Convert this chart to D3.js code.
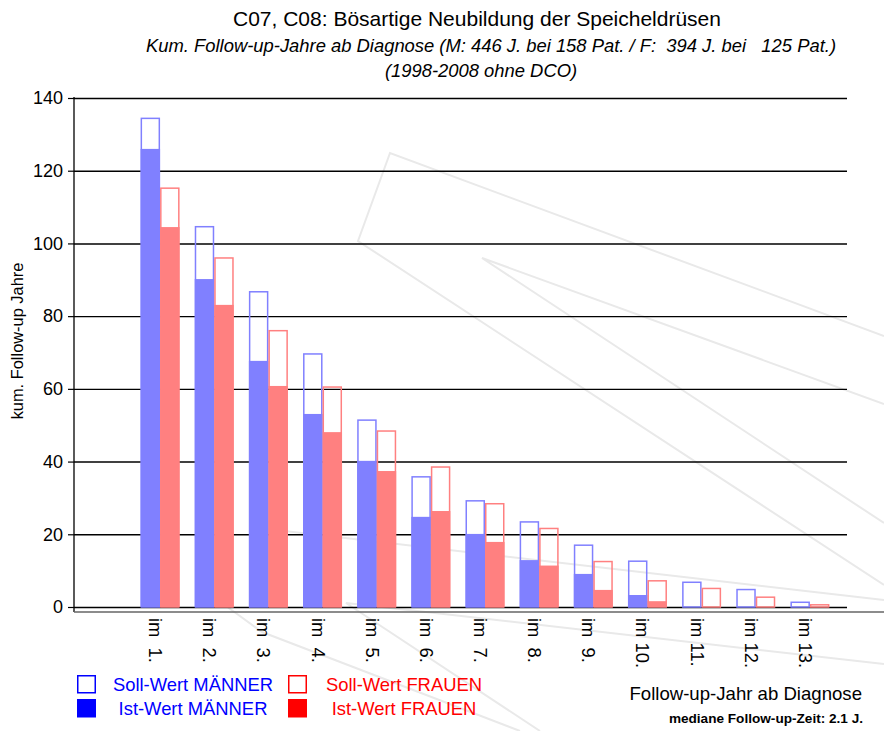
<!DOCTYPE html>
<html>
<head>
<meta charset="utf-8">
<script src="https://cdn.jsdelivr.net/npm/d3@7"></script>
<style>
  body { margin: 0; background: #fff; }
  svg text { font-family: "Liberation Sans", Arial, sans-serif; white-space: pre; }
</style>
</head>
<body>
<svg id="chart" width="884" height="731"></svg>
<script>
// follow-up years, one group per year after diagnosis
var years = ["im  1.", "im  2.", "im  3.", "im  4.", "im  5.", "im  6.", "im  7.",
             "im  8.", "im  9.", "im 10.", "im 11.", "im 12.", "im 13."];
var sollMaenner = [134.4, 104.6, 86.7, 69.6, 51.4, 35.8, 29.2, 23.4, 17.0, 12.6, 6.8, 4.8, 1.3];
var istMaenner  = [126.0, 90.2, 67.7, 53.1, 40.2, 24.8, 20.1, 12.9, 9.1, 3.3, 0, 0, 0];
var sollFrauen  = [115.2, 96.0, 76.0, 60.5, 48.4, 38.5, 28.4, 21.6, 12.5, 7.2, 5.1, 2.7, 0.6];
var istFrauen   = [104.5, 83.1, 60.8, 48.1, 37.4, 26.4, 17.9, 11.4, 4.7, 1.6, 0, 0, 0];
var yTicks = [0, 20, 40, 60, 80, 100, 120, 140];

var svg = d3.select("#chart");

var plotLeft = 74, plotRight = 847, plotTop = 98, plotBottom = 607;

var y = d3.scaleLinear().domain([0, 140]).range([plotBottom, plotTop]);
var x = d3.scaleBand().domain(years).range([133, 837]).paddingInner(0.28).paddingOuter(0.14);
var xSex = d3.scaleBand().domain(["M", "F"]).range([0, x.bandwidth()]);

// faint watermark lines in the background
var wm = svg.append("g").attr("fill", "none").attr("stroke", "#e9e9e9").attr("stroke-width", 2);
[
  [[884, 336], [390, 153], [358, 241], [884, 585]],
  [[884, 404], [482, 258], [884, 523]],
  [[250, 527], [884, 600]],
  [[884, 664], [346, 603], [540, 731]],
  [[222, 603], [262, 632], [520, 731]]
].forEach(function(pts) {
  wm.append("path").attr("d", d3.line()(pts));
});

// gridlines
svg.append("g")
  .attr("transform", "translate(" + plotLeft + ",0)")
  .call(d3.axisLeft(y).tickValues(yTicks).tickSize(-(plotRight - plotLeft)).tickFormat(""))
  .call(function(g) {
    g.select(".domain").remove();
    g.selectAll("line").attr("stroke", "#000").attr("stroke-width", 1.4);
  });

// y axis with labels
svg.append("g")
  .attr("transform", "translate(" + plotLeft + ",0)")
  .call(d3.axisLeft(y).tickValues(yTicks).tickSize(6).tickPadding(5))
  .call(function(g) {
    g.select(".domain").remove();
    g.selectAll("line").attr("stroke", "#000").attr("stroke-width", 1.2);
    g.selectAll("text").attr("font-size", 18).attr("fill", "#000")
      .attr("font-family", "Liberation Sans, Arial, sans-serif");
  });

svg.append("line")
  .attr("x1", plotLeft).attr("x2", plotLeft)
  .attr("y1", y(140) - 1).attr("y2", y(0) + 5)
  .attr("stroke", "#000").attr("stroke-width", 1.3);

// bars
var groups = svg.append("g").selectAll("g")
  .data(years)
  .join("g")
  .attr("transform", function(d) { return "translate(" + x(d) + ",0)"; });

groups.append("rect")
  .attr("x", xSex("M")).attr("width", xSex.bandwidth())
  .attr("y", function(d, i) { return y(istMaenner[i]); })
  .attr("height", function(d, i) { return y(0) - y(istMaenner[i]); })
  .attr("fill", "#8080ff");

groups.append("rect")
  .attr("x", xSex("F")).attr("width", xSex.bandwidth())
  .attr("y", function(d, i) { return y(istFrauen[i]); })
  .attr("height", function(d, i) { return y(0) - y(istFrauen[i]); })
  .attr("fill", "#ff8080");

groups.append("rect")
  .attr("x", xSex("M") + 0.75).attr("width", xSex.bandwidth() - 1.5)
  .attr("y", function(d, i) { return y(sollMaenner[i]); })
  .attr("height", function(d, i) { return y(0) - y(sollMaenner[i]); })
  .attr("fill", "none").attr("stroke", "#8080ff").attr("stroke-width", 1.5);

groups.append("rect")
  .attr("x", xSex("F") + 0.75).attr("width", xSex.bandwidth() - 1.5)
  .attr("y", function(d, i) { return y(sollFrauen[i]); })
  .attr("height", function(d, i) { return y(0) - y(sollFrauen[i]); })
  .attr("fill", "none").attr("stroke", "#ff8080").attr("stroke-width", 1.5);

// x axis
svg.append("line")
  .attr("x1", plotLeft).attr("x2", 884)
  .attr("y1", y(0) + 5).attr("y2", y(0) + 5)
  .attr("stroke", "#666").attr("stroke-width", 1.5);

svg.append("g")
  .selectAll("text")
  .data(years)
  .join("text")
  .attr("transform", function(d) {
    return "translate(" + (x(d) + x.bandwidth() / 2 - 11) + "," + (y(0) + 11) + ") rotate(90)";
  })
  .attr("font-size", 18.4)
  .attr("fill", "#000")
  .text(function(d) { return d; });

// titles
svg.append("text").attr("x", 477).attr("y", 26).attr("text-anchor", "middle")
  .attr("font-size", 21).text("C07, C08: Bösartige Neubildung der Speicheldrüsen");
svg.append("text").attr("x", 491).attr("y", 52).attr("text-anchor", "middle")
  .attr("font-size", 18.4).attr("font-style", "italic")
  .text("Kum. Follow-up-Jahre ab Diagnose (M: 446 J. bei 158 Pat. / F:  394 J. bei   125 Pat.)");
svg.append("text").attr("x", 481).attr("y", 77).attr("text-anchor", "middle")
  .attr("font-size", 18.4).attr("font-style", "italic")
  .text("(1998-2008 ohne DCO)");

svg.append("text")
  .attr("transform", "translate(23,341) rotate(-90)")
  .attr("text-anchor", "middle").attr("font-size", 16.4)
  .text("kum. Follow-up Jahre");

svg.append("text").attr("x", 862).attr("y", 700).attr("text-anchor", "end")
  .attr("font-size", 18.6).text("Follow-up-Jahr ab Diagnose");
svg.append("text").attr("x", 863).attr("y", 723).attr("text-anchor", "end")
  .attr("font-size", 13.6).attr("font-weight", "bold").text("mediane Follow-up-Zeit: 2.1 J.");

// legend
var legendItems = [
  { label: "Soll-Wert MÄNNER", color: "#0000ff", filled: false, col: 0, row: 0 },
  { label: "Ist-Wert MÄNNER",  color: "#0000ff", filled: true,  col: 0, row: 1 },
  { label: "Soll-Wert FRAUEN", color: "#ff0000", filled: false, col: 1, row: 0 },
  { label: "Ist-Wert FRAUEN",  color: "#ff0000", filled: true,  col: 1, row: 1 }
];
var legend = svg.append("g").selectAll("g")
  .data(legendItems)
  .join("g")
  .attr("transform", function(d) { return "translate(" + (77 + d.col * 211) + "," + (675 + d.row * 24) + ")"; });

legend.append("rect")
  .attr("x", function(d) { return d.filled ? 0 : 0.75; })
  .attr("y", function(d) { return d.filled ? 0 : 0.75; })
  .attr("width", function(d) { return d.filled ? 19 : 17.5; })
  .attr("height", function(d) { return d.filled ? 18.5 : 17; })
  .attr("fill", function(d) { return d.filled ? d.color : "none"; })
  .attr("stroke", function(d) { return d.filled ? "none" : d.color; })
  .attr("stroke-width", 1.5);

legend.append("text")
  .attr("x", 116).attr("y", 16)
  .attr("text-anchor", "middle")
  .attr("font-size", 18.4)
  .attr("fill", function(d) { return d.color; })
  .text(function(d) { return d.label; });
</script>
</body>
</html>
